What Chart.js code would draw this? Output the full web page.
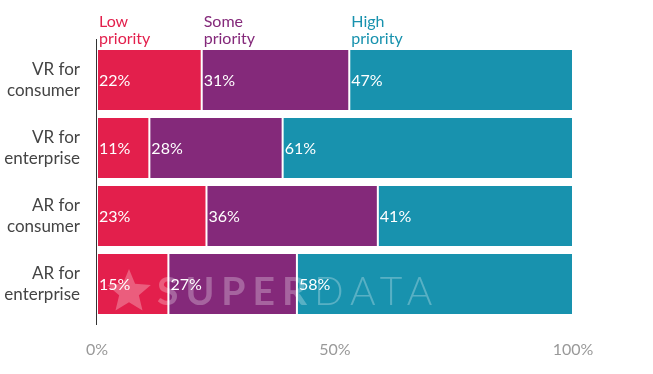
<!DOCTYPE html>
<html>
<head>
<meta charset="utf-8">
<script src="https://cdn.jsdelivr.net/npm/chart.js@4"></script>
<style>
  html, body { margin: 0; padding: 0; background: #fff; }
  #wrap { width: 653px; height: 374px; }
</style>
</head>
<body>
<div id="wrap"><canvas id="priorityChart"></canvas></div>
<script>
const categories = [["VR for", "consumer"], ["VR for", "enterprise"], ["AR for", "consumer"], ["AR for", "enterprise"]];
const seriesNames = [["Low", "priority"], ["Some", "priority"], ["High", "priority"]];
const lowPriority = [22, 11, 23, 15];
const somePriority = [31, 28, 36, 27];
const highPriority = [47, 61, 41, 58];
const xTicks = [0, 50, 100];
const colors = ["#e31f4c", "#84297a", "#1892ae"];

drawStar = function (ctx, cx, cy, r) {
    ctx.beginPath();
    for (let k = 0; k < 10; k++) {
        const rad = k % 2 === 0 ? r : r * 0.45;
        const a = -Math.PI / 2 + k * Math.PI / 5;
        ctx.lineTo(cx + rad * Math.cos(a), cy + rad * Math.sin(a));
    }
    ctx.closePath();
    ctx.fill();
};

// series headers, value labels, axis line and the watermark
const labelPlugin = {
    id: 'labelPlugin',
    afterDatasetsDraw(chart) {
        const ctx = chart.ctx;
        const area = chart.chartArea;
        ctx.save();
        // watermark
        ctx.fillStyle = 'rgba(255,255,255,0.28)';
        drawStar(ctx, 129, 292, 23);
        ctx.textBaseline = 'alphabetic';
        ctx.textAlign = 'left';
        ctx.letterSpacing = '7px';
        ctx.font = 'bold 39px Lato';
        ctx.fillText('SUPER', 157, 305);
        const w = ctx.measureText('SUPER').width;
        ctx.font = '300 39px Lato';
        ctx.fillText('DATA', 157 + w, 305);
        ctx.letterSpacing = '0px';

        chart.data.datasets.forEach(function (ds, i) {
            const meta = chart.getDatasetMeta(i);
            ctx.font = '16px Lato';
            meta.data.forEach(function (bar, j) {
                ctx.fillStyle = '#fff';
                ctx.textAlign = 'left';
                ctx.textBaseline = 'middle';
                ctx.fillText(ds.data[j] + '%', bar.base + 2, bar.y + 1);
            });
            // header above the first row
            const first = meta.data[0];
            ctx.fillStyle = colors[i];
            ctx.textBaseline = 'alphabetic';
            ctx.fillText(seriesNames[i][0], first.base + 2, 27);
            ctx.fillText(seriesNames[i][1], first.base + 2, 44);
        });
        // axis line
        ctx.strokeStyle = '#333';
        ctx.lineWidth = 1;
        ctx.beginPath();
        ctx.moveTo(area.left - 0.5, area.top - 7);
        ctx.lineTo(area.left - 0.5, area.bottom + 7);
        ctx.stroke();
        ctx.restore();
    }
};

new Chart("priorityChart", {
    type: "bar",
    data: {
        labels: categories,
        datasets: [
            { label: "Low priority", data: lowPriority, backgroundColor: colors[0] },
            { label: "Some priority", data: somePriority, backgroundColor: colors[1] },
            { label: "High priority", data: highPriority, backgroundColor: colors[2] }
        ].map(function (d) {
            d.borderColor = '#fff';
            d.borderWidth = { left: 1, right: 1 };
            d.borderSkipped = false;
            d.categoryPercentage = 0.88;
            d.barPercentage = 1.0;
            return d;
        })
    },
    plugins: [labelPlugin],
    options: {
        indexAxis: 'y',
        responsive: true,
        maintainAspectRatio: false,
        animation: false,
        layout: { padding: { top: 46, right: 80, bottom: 0, left: 0 } },
        plugins: {
            legend: { display: false },
            tooltip: { enabled: false }
        },
        scales: {
            x: {
                stacked: true,
                min: 0,
                max: 100,
                afterBuildTicks: function (scale) {
                    scale.ticks = xTicks.map(function (v) { return { value: v }; });
                },
                afterFit: function (scale) { scale.height = 56; },
                grid: { display: false, drawTicks: false },
                border: { display: false },
                ticks: {
                    color: '#999',
                    font: { family: 'Lato', size: 16 },
                    padding: 22,
                    callback: function (v) { return v + '%'; }
                }
            },
            y: {
                stacked: true,
                grid: { display: false, drawTicks: false },
                border: { display: false },
                afterFit: function (scale) { scale.width = 97; },
                ticks: {
                    color: '#444',
                    font: { family: 'Lato', size: 17, lineHeight: 1.2 },
                    padding: 17
                }
            }
        }
    }
});
</script>
</body>
</html>
